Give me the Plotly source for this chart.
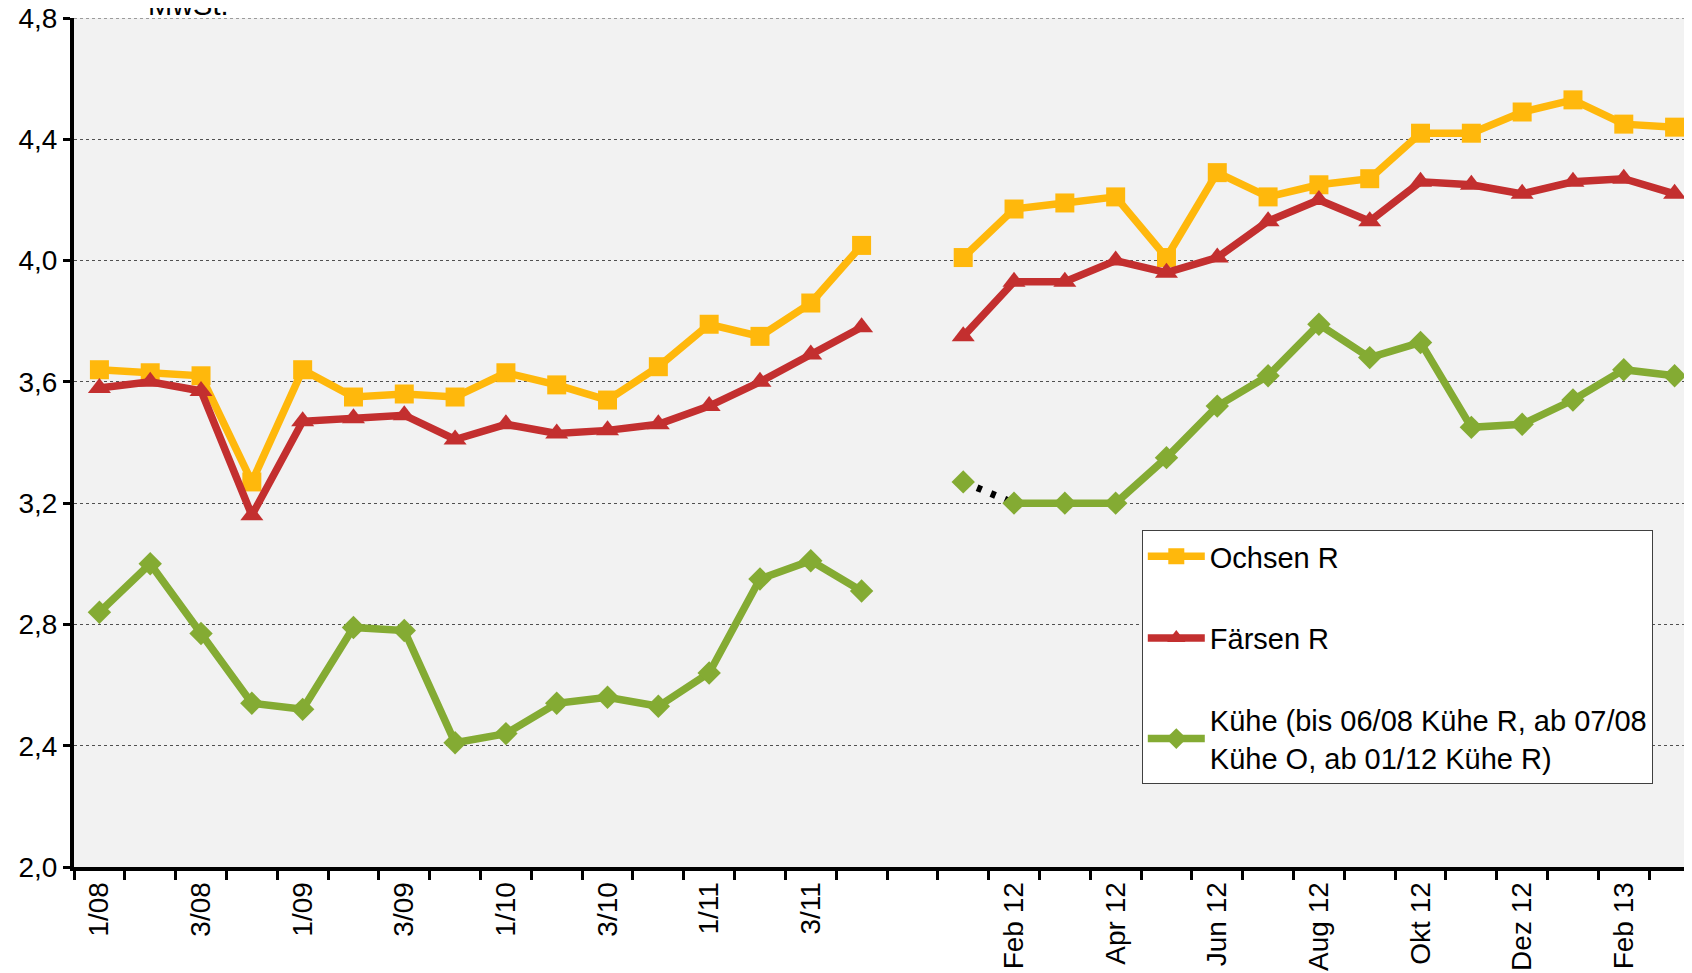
import plotly.graph_objects as go

# Kategorien: Quartale 2008-2011, eine Leerstelle, dann Monate 2012/13
quartale = ["1/08", "2/08", "3/08", "4/08", "1/09", "2/09", "3/09", "4/09",
            "1/10", "2/10", "3/10", "4/10", "1/11", "2/11", "3/11", "4/11"]
luecke = [" "]
monate = ["Jan 12", "Feb 12", "Mrz 12", "Apr 12", "Mai 12", "Jun 12", "Jul 12",
          "Aug 12", "Sep 12", "Okt 12", "Nov 12", "Dez 12", "Jan 13", "Feb 13", "Mrz 13"]
kategorien = quartale + luecke + monate

# nur jede zweite Kategorie bekommt eine Beschriftung
beschriftung = ["1/08", "", "3/08", "", "1/09", "", "3/09", "", "1/10", "", "3/10", "",
                "1/11", "", "3/11", "", "",
                "", "Feb 12", "", "Apr 12", "", "Jun 12", "", "Aug 12", "", "Okt 12", "",
                "Dez 12", "", "Feb 13", ""]

ochsen_q = [3.64, 3.63, 3.62, 3.27, 3.64, 3.55, 3.56, 3.55,
            3.63, 3.59, 3.54, 3.65, 3.79, 3.75, 3.86, 4.05]
ochsen_m = [4.01, 4.17, 4.19, 4.21, 4.01, 4.29, 4.21, 4.25,
            4.27, 4.42, 4.42, 4.49, 4.53, 4.45, 4.44]

faersen_q = [3.58, 3.60, 3.57, 3.16, 3.47, 3.48, 3.49, 3.41,
             3.46, 3.43, 3.44, 3.46, 3.52, 3.60, 3.69, 3.78]
faersen_m = [3.75, 3.93, 3.93, 4.00, 3.96, 4.01, 4.13, 4.20,
             4.13, 4.26, 4.25, 4.22, 4.26, 4.27, 4.22]

kuehe_q = [2.84, 3.00, 2.77, 2.54, 2.52, 2.79, 2.78, 2.41,
           2.44, 2.54, 2.56, 2.53, 2.64, 2.95, 3.01, 2.91]
kuehe_jan12 = 3.27  # Einzelpunkt, nur gepunktet mit Feb 12 verbunden
kuehe_m = [None, 3.20, 3.20, 3.20, 3.35, 3.52, 3.62, 3.79,
           3.68, 3.73, 3.45, 3.46, 3.54, 3.64, 3.62]

ytick_werte = [2.0, 2.4, 2.8, 3.2, 3.6, 4.0, 4.4, 4.8]

GELB = "#FFB80C"
ROT = "#C32F2F"
GRUEN = "#84AB33"
SCHRIFT = "Liberation Sans, Arial, sans-serif"
LINIE = 7.5

ochsen = ochsen_q + [None] + ochsen_m
faersen = faersen_q + [None] + faersen_m
kuehe = kuehe_q + [None] + kuehe_m

fig = go.Figure()

fig.add_trace(go.Scatter(
    x=kategorien, y=ochsen, name="Ochsen R", mode="lines+markers",
    line=dict(color=GELB, width=LINIE),
    marker=dict(symbol="square", size=19, color=GELB),
    legendgroup="a"
))
fig.add_trace(go.Scatter(
    x=kategorien, y=faersen, name="Färsen R", mode="lines+markers",
    line=dict(color=ROT, width=LINIE),
    marker=dict(symbol="triangle-up", size=20, color=ROT),
    legendgroup="b"
))
# gepunktete Verbindung Jan 12 -> Feb 12
fig.add_trace(go.Scatter(
    x=[monate[0], monate[1]], y=[kuehe_jan12, kuehe_m[1]], mode="lines",
    line=dict(color="black", width=7, dash="5px,10px"),
    showlegend=False, hoverinfo="skip"
))
fig.add_trace(go.Scatter(
    x=kategorien, y=kuehe,
    name="Kühe (bis 06/08 Kühe R, ab 07/08<br>Kühe O, ab 01/12 Kühe R)",
    mode="lines+markers",
    line=dict(color=GRUEN, width=LINIE),
    marker=dict(symbol="diamond", size=18, color=GRUEN),
    legendgroup="c"
))
fig.add_trace(go.Scatter(
    x=[monate[0]], y=[kuehe_jan12], mode="markers",
    marker=dict(symbol="diamond", size=18, color=GRUEN),
    showlegend=False
))

fig.update_layout(
    width=1692, height=973,
    margin=dict(l=66, r=0, t=10, b=114),
    paper_bgcolor="white",
    plot_bgcolor="#F2F2F2",
    separators=",.",
    font=dict(family=SCHRIFT, size=28, color="black"),
    showlegend=True,
    legend=dict(
        x=0.6567, y=0.397, xanchor="left", yanchor="top",
        bgcolor="white", bordercolor="#404040", borderwidth=1,
        font=dict(size=29), traceorder="grouped", tracegroupgap=41,
        itemwidth=57
    ),
    annotations=[dict(
        text="MwSt.", xref="paper", yref="paper", x=0.044, y=1,
        xanchor="left", yanchor="bottom", yshift=-5, showarrow=False,
        font=dict(size=29)
    )],
    # obere Gitterlinie bei 4,8
    shapes=[dict(
        type="line", xref="paper", yref="y", x0=0, x1=1, y0=4.8, y1=4.8,
        line=dict(color="#808080", width=1.5, dash="dot"), layer="below"
    )]
)

fig.update_xaxes(
    type="category", categoryorder="array", categoryarray=kategorien,
    range=[-0.5, 31.5], automargin=False,
    tickvals=kategorien, ticktext=beschriftung,
    tickson="boundaries", ticks="outside", ticklen=9, tickwidth=3, tickcolor="black",
    tickangle=-90, tickfont=dict(size=28),
    showline=True, linecolor="black", linewidth=4,
    showgrid=False, zeroline=False
)
fig.update_yaxes(
    range=[2.0, 4.8], tickvals=ytick_werte, tickformat=".1f", automargin=False,
    ticklabeloverflow="allow",
    ticks="outside", ticklen=7, tickwidth=3, tickcolor="black",
    tickfont=dict(size=28),
    showline=True, linecolor="black", linewidth=4,
    showgrid=True, gridcolor="#505050", gridwidth=1, griddash="dot",
    zeroline=False
)

fig.write_html("out.html")
